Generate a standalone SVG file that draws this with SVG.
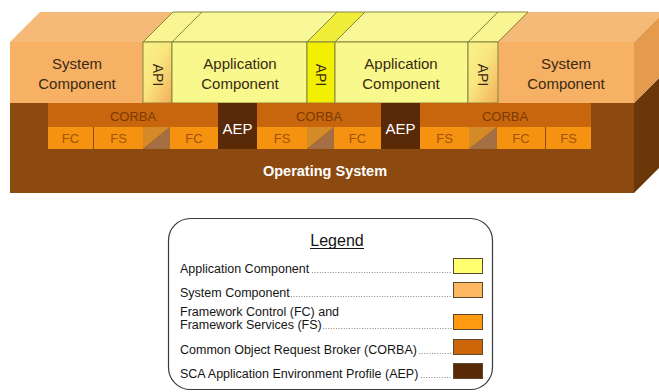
<svg xmlns="http://www.w3.org/2000/svg" width="659" height="392" viewBox="0 0 659 392">
  <defs>
    <linearGradient id="apiFade" x1="0" y1="0" x2="1" y2="1">
      <stop offset="0" stop-color="#F9F28C"/>
      <stop offset="0.45" stop-color="#F9E67E"/>
      <stop offset="1" stop-color="#F3AE5C"/>
    </linearGradient>
    <style>
      .lbl { font-family: "Liberation Sans", Arial, sans-serif; }
      .comp { font-size: 15px; fill: #3A2A12; text-anchor: middle; }
      .api { font-size: 14px; fill: #3A2A12; text-anchor: middle; }
      .corba { font-size: 13px; fill: #7A3A02; text-anchor: middle; }
      .fcfs { font-size: 13px; fill: #A2520A; text-anchor: middle; }
      .aep { font-size: 15px; fill: #FFFFFF; text-anchor: middle; }
      .os { font-size: 14.5px; font-weight: bold; fill: #FFFFFF; text-anchor: middle; }
      .edge { stroke: #85853C; stroke-width: 1; }
      .leg { font-size: 12.5px; fill: #151515; }
      .dots { stroke: #8A8A8A; stroke-width: 1; stroke-dasharray: 1 1.6; fill: none; }
      .sw { stroke: #5A4A30; stroke-width: 1; }
    </style>
  </defs>

  <!-- Operating system base -->
  <g id="operating-system">
    <rect x="10" y="103" width="624" height="90" fill="#8C4A10"/>
    <polygon points="634,103 664,73 664,163 634,193" fill="#6B3709"/>
    <text class="lbl os" x="325" y="176">Operating System</text>
  </g>

  <!-- Left system component -->
  <g id="system-component-left">
    <polygon points="10,42 40,12 173,12 143,42" fill="#F5BA78"/>
    <rect x="10" y="42" width="133" height="61" fill="#F7B165"/>
    <text class="lbl comp" x="77" y="69">System</text>
    <text class="lbl comp" x="77" y="89">Component</text>
  </g>

  <!-- Right system component -->
  <g id="system-component-right">
    <polygon points="498,42 528,12 664,12 634,42" fill="#F5BA78"/>
    <rect x="498" y="42" width="136" height="61" fill="#F7B165"/>
    <polygon points="634,42 664,12 664,73 634,103" fill="#E49B4D"/>
    <text class="lbl comp" x="566" y="69">System</text>
    <text class="lbl comp" x="566" y="89">Component</text>
  </g>

  <!-- API 1 -->
  <g id="api-1">
    <polygon class="edge" points="143,42 173,12 202,12 172,42" fill="#F8F592"/>
    <rect class="edge" x="143" y="42" width="29" height="61" fill="url(#apiFade)"/>
    <text class="lbl api" transform="translate(153,75) rotate(90)" x="0" y="0">API</text>
  </g>

  <!-- Application component 1 -->
  <g id="application-component-1">
    <polygon class="edge" points="172,42 202,12 337,12 307,42" fill="#F8F896"/>
    <rect class="edge" x="172" y="42" width="135" height="61" fill="#F8F88C"/>
    <text class="lbl comp" x="240" y="69">Application</text>
    <text class="lbl comp" x="240" y="89">Component</text>
  </g>

  <!-- API 2 -->
  <g id="api-2">
    <polygon class="edge" points="307,42 337,12 365,12 335,42" fill="#F0EE38"/>
    <rect class="edge" x="307" y="42" width="28" height="61" fill="#F2F000"/>
    <text class="lbl api" transform="translate(316,75) rotate(90)" x="0" y="0">API</text>
  </g>

  <!-- Application component 2 -->
  <g id="application-component-2">
    <polygon class="edge" points="335,42 365,12 498,12 468,42" fill="#F8F896"/>
    <rect class="edge" x="335" y="42" width="133" height="61" fill="#F8F88C"/>
    <text class="lbl comp" x="401" y="69">Application</text>
    <text class="lbl comp" x="401" y="89">Component</text>
  </g>

  <!-- API 3 -->
  <g id="api-3">
    <polygon class="edge" points="468,42 498,12 528,12 498,42" fill="#F8F592"/>
    <rect class="edge" x="468" y="42" width="30" height="61" fill="url(#apiFade)"/>
    <text class="lbl api" transform="translate(478,75) rotate(90)" x="0" y="0">API</text>
  </g>

  <!-- CORBA bands -->
  <g id="corba-1">
    <rect x="48" y="103" width="170" height="24" fill="#C8660E"/>
    <text class="lbl corba" x="133" y="121">CORBA</text>
  </g>
  <g id="corba-2">
    <rect x="257" y="103" width="124" height="24" fill="#C8660E"/>
    <text class="lbl corba" x="319" y="121">CORBA</text>
  </g>
  <g id="corba-3">
    <rect x="420" y="103" width="171" height="24" fill="#C8660E"/>
    <text class="lbl corba" x="505" y="121">CORBA</text>
  </g>

  <!-- Application environment profiles -->
  <g id="aep-1">
    <rect x="218" y="103" width="39" height="46" fill="#5A2A08"/>
    <text class="lbl aep" x="237.5" y="134">AEP</text>
  </g>
  <g id="aep-2">
    <rect x="381" y="103" width="39" height="46" fill="#5A2A08"/>
    <text class="lbl aep" x="400.5" y="134">AEP</text>
  </g>

  <!-- Framework control / services row -->
  <g id="fc-1">
    <rect x="48" y="127" width="45" height="22" fill="#F5920F"/>
    <text class="lbl fcfs" x="70.5" y="143">FC</text>
  </g>
  <g id="fs-1">
    <rect x="94" y="127" width="49" height="22" fill="#F5920F"/>
    <text class="lbl fcfs" x="118.5" y="143">FS</text>
  </g>
  <g id="split-1">
    <polygon points="143,127 170,127 143,149" fill="#D58A28"/>
    <polygon points="170,127 170,149 143,149" fill="#A46F42"/>
  </g>
  <g id="fc-2">
    <rect x="170" y="127" width="48" height="22" fill="#F5920F"/>
    <text class="lbl fcfs" x="194" y="143">FC</text>
  </g>
  <g id="fs-2">
    <rect x="257" y="127" width="50" height="22" fill="#F5920F"/>
    <text class="lbl fcfs" x="282" y="143">FS</text>
  </g>
  <g id="split-2">
    <polygon points="307,127 334,127 307,149" fill="#D58A28"/>
    <polygon points="334,127 334,149 307,149" fill="#A46F42"/>
  </g>
  <g id="fc-3">
    <rect x="334" y="127" width="47" height="22" fill="#F5920F"/>
    <text class="lbl fcfs" x="357.5" y="143">FC</text>
  </g>
  <g id="fs-3">
    <rect x="420" y="127" width="49" height="22" fill="#F5920F"/>
    <text class="lbl fcfs" x="444.5" y="143">FS</text>
  </g>
  <g id="split-3">
    <polygon points="469,127 497,127 469,149" fill="#D58A28"/>
    <polygon points="497,127 497,149 469,149" fill="#A46F42"/>
  </g>
  <g id="fc-4">
    <rect x="497" y="127" width="48" height="22" fill="#F5920F"/>
    <text class="lbl fcfs" x="521" y="143">FC</text>
  </g>
  <g id="fs-4">
    <rect x="546" y="127" width="45" height="22" fill="#F5920F"/>
    <text class="lbl fcfs" x="568.5" y="143">FS</text>
  </g>

  <!-- no connectors in this drawing -->
  <g id="connectors"/>

  <!-- Legend -->
  <g id="legend">
    <rect x="168.5" y="218.5" width="324" height="171" rx="22" ry="22" fill="#FFFFFF" stroke="#3A3A3A" stroke-width="1.2"/>
    <text class="lbl" x="337" y="246" font-size="16" fill="#151515" text-anchor="middle">Legend</text>
    <line x1="310" y1="248.5" x2="364" y2="248.5" stroke="#151515" stroke-width="1"/>

    <text class="lbl leg" x="180" y="273">Application Component</text>
    <line class="dots" x1="312" y1="272.5" x2="452" y2="272.5"/>
    <rect class="sw" x="453.5" y="258.5" width="29" height="15" fill="#FFFF70"/>

    <text class="lbl leg" x="180" y="297">System Component</text>
    <line class="dots" x1="291" y1="296.5" x2="452" y2="296.5"/>
    <rect class="sw" x="453.5" y="282.5" width="29" height="15" fill="#FDB761"/>

    <text class="lbl leg" x="180" y="316">Framework Control (FC) and</text>
    <text class="lbl leg" x="180" y="329">Framework Services (FS)</text>
    <line class="dots" x1="323" y1="328.5" x2="452" y2="328.5"/>
    <rect class="sw" x="453.5" y="314.5" width="29" height="15" fill="#FF9A10"/>

    <text class="lbl leg" x="180" y="354">Common Object Request Broker (CORBA)</text>
    <line class="dots" x1="419" y1="353.5" x2="452" y2="353.5"/>
    <rect class="sw" x="453.5" y="339.5" width="29" height="15" fill="#CC6609"/>

    <text class="lbl leg" x="180" y="378">SCA Application Environment Profile (AEP)</text>
    <line class="dots" x1="421" y1="377.5" x2="452" y2="377.5"/>
    <rect class="sw" x="453.5" y="363.5" width="29" height="15" fill="#5A2A06"/>
  </g>
</svg>
